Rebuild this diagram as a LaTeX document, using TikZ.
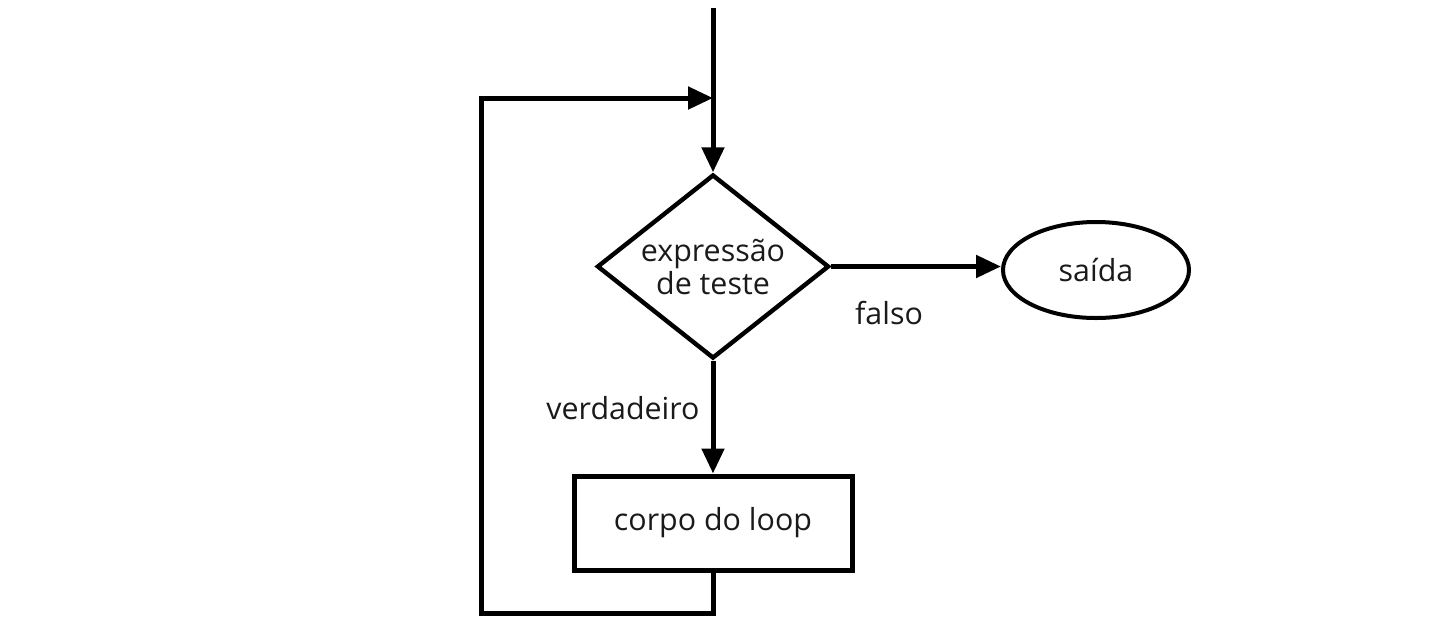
\documentclass[tikz,border=0pt]{standalone}
\usepackage{fontspec}
\setmainfont{Open Sans}
\usetikzlibrary{shapes.geometric,arrows.meta}
\definecolor{txt}{HTML}{1A1A1A}
\begin{document}
\begin{tikzpicture}[x=0.5pt,y=-0.5pt,
  every node/.style={text=txt,font=\fontsize{15.2}{16.5}\selectfont},
  conn/.style={line width=2.5pt,draw=black,-{Triangle[length=12.5pt,width=11pt]}},
  decision/.style={diamond,draw=black,line width=2.2pt,minimum width=116pt,minimum height=92pt,aspect=1.25,inner sep=0pt,align=center},
  terminal/.style={ellipse,draw=black,line width=2pt,minimum width=93pt,minimum height=48pt,inner sep=0pt},
  process/.style={rectangle,draw=black,line width=2.5pt,minimum width=139pt,minimum height=47pt,inner sep=0pt},
  lbl/.style={inner sep=0pt}]
\useasboundingbox (0,0) rectangle (1447,628);
\node[decision] (dia) at (713,266.5) {expressão\\de teste};
\node[terminal] (out) at (1096,270) {saída};
\node[process] (body) at (713,523) {corpo do loop};
\coordinate (start) at (713,8);
\coordinate (join) at (713,98);
\coordinate (tl) at (481,98);
\coordinate (bl) at (481,613);
\draw[conn] (start) -- (dia.north);
\draw[conn] (dia.east) -- (dia.east -| out.west);
\draw[conn] (dia.south) -- (body.north);
\draw[conn] (body.south) |- (bl) -- (tl) -- (join);
\node[lbl] (lf) at (889,313) {falso};
\node[lbl] (lv) at (623,408) {verdadeiro};
\end{tikzpicture}
\end{document}
